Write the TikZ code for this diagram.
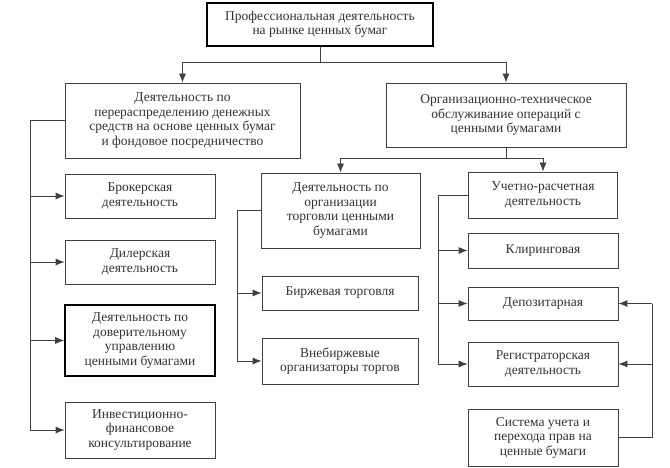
\documentclass[tikz,border=0pt]{standalone}
\usepackage{fontspec}
\setmainfont{Liberation Serif}
\usetikzlibrary{arrows.meta}
\begin{document}
\begin{tikzpicture}[x=1pt,y=-1pt,
 bx/.style={draw=black!75,line width=0.8pt,fill=white,align=center,font=\fontsize{13.5}{14.5}\selectfont,text=black!80,inner sep=1pt},
 thick box/.style={bx,line width=1.6pt,draw=black},
 ln/.style={draw=black!75,line width=0.8pt},
 ar/.style={ln,-{Latex[length=9pt,width=7pt]}}]
\useasboundingbox (0,0) rectangle (670,468);
\fill[white] (0,0) rectangle (670,468);
\node[thick box,minimum width=226,minimum height=43] (top) at (320,24.5) {Профессиональная деятельность\\на рынке ценных бумаг};
\node[bx,minimum width=235,minimum height=75] (l1) at (182.5,120.5) {Деятельность по\\перераспределению денежных\\средств на основе ценных бумаг\\и фондовое посредничество};
\node[bx,minimum width=240,minimum height=64] (r1) at (506,115) {Организационно-техническое\\обслуживание операций с\\ценными бумагами};
\node[bx,minimum width=150,minimum height=44] (a1) at (140,196) {Брокерская\\деятельность};
\node[bx,minimum width=150,minimum height=44] (a2) at (140,262) {Дилерская\\деятельность};
\node[thick box,minimum width=150,minimum height=71] (a3) at (140,340.5) {Деятельность по\\доверительному\\управлению\\ценными бумагами};
\node[bx,minimum width=150,minimum height=56] (a4) at (140,430) {Инвестиционно-\\финансовое\\консультирование};
\node[bx,minimum width=159,minimum height=75] (m1) at (340.5,210.5) {Деятельность по\\организации\\торговли ценными\\бумагами};
\node[bx,minimum width=156,minimum height=34] (m2) at (340,293) {Биржевая торговля};
\node[bx,minimum width=156,minimum height=46] (m3) at (340,361) {Внебиржевые\\организаторы торгов};
\node[bx,minimum width=149,minimum height=46] (n1) at (543,195) {Учетно-расчетная\\деятельность};
\node[bx,minimum width=150,minimum height=35] (n2) at (543,250.5) {Клиринговая};
\node[bx,minimum width=150,minimum height=33] (n3) at (543,303.5) {Депозитарная};
\node[bx,minimum width=150,minimum height=44] (n4) at (543,364) {Регистраторская\\деятельность};
\node[bx,minimum width=150,minimum height=57] (n5) at (543,437.5) {Система учета и\\перехода прав на\\ценные бумаги};
\draw[ln] (top.south) -- (320,62) coordinate (t1);
\draw[ar] (t1) -| (l1.north);
\draw[ar] (t1) -| (r1.north);
\draw[ln] (r1.south) -- (506,158) coordinate (r2);
\draw[ar] (r2) -| (m1.north);
\draw[ar] (r2) -| (n1.north);
\draw[ln] (l1.west) -- (30,120.5) coordinate (lc) -- (30,430);
\foreach \b in {a1,a2,a3,a4} \draw[ar] (lc |- \b.west) -- (\b.west);
\draw[ln] (m1.west) -- (237,210.5) coordinate (mc) -- (237,361);
\foreach \b in {m2,m3} \draw[ar] (mc |- \b.west) -- (\b.west);
\draw[ln] (n1.west) -- (438,195) coordinate (nc) -- (438,364);
\foreach \b in {n2,n3,n4} \draw[ar] (nc |- \b.west) -- (\b.west);
\draw[ln] (n5.east) -- (652,437.5) coordinate (sc) -- (652,303.5);
\foreach \b in {n3,n4} \draw[ar] (sc |- \b.east) -- (\b.east);
\end{tikzpicture}
\end{document}
